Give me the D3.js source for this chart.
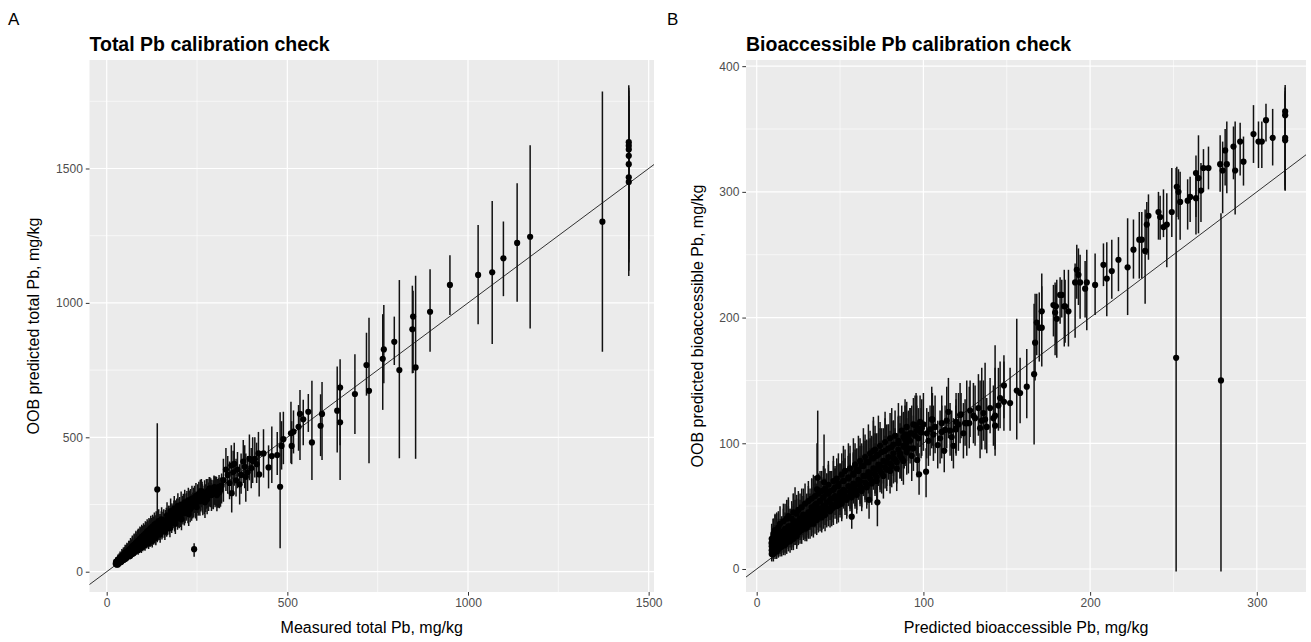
<!DOCTYPE html>
<html>
<head>
<meta charset="utf-8">
<script src="https://cdn.jsdelivr.net/npm/d3@7"></script>
<style>
  body { margin: 0; background: #fff; }
  svg text { font-family: "Liberation Sans", Arial, sans-serif; }
</style>
</head>
<body>
<svg id="chart" width="1311" height="642"></svg>
<script>
// ---- data: [x, predicted, lower, upper] ----
// panel A, sparse upper part
var totalUpper = [
  [1445,1598,1230,1810],[1445,1585,1300,1790],[1445,1571,1200,1800],[1445,1547,1150,1770],
  [1445,1516,1100,1750],[1445,1467,1120,1720],[1445,1450,1250,1700],
  [1372,1302,818,1786],[1172,1246,905,1586],[1136,1223,1004,1445],[1098,1166,1025,1303],
  [1067,1114,847,1379],[1028,1104,921,1290],[950,1067,955,1177],[895,967,818,1125],
  [855,760,420,1101],[848,949,739,1045],[846,902,738,1064],[810,750,422,1085],
  [796,855,769,949],[767,827,701,992],[764,792,602,958],[726,673,403,945],
  [719,769,655,889],[687,661,512,809],[646,685,341,790],[638,599,443,763],
  [646,556,470,700],[596,587,416,706],[592,543,430,660],[568,481,341,710],
  [558,595,520,661],[544,567,470,640],[535,587,416,676],[531,539,450,620],
  [517,521,440,600],[510,515,403,632],[512,468,400,560],[489,493,400,595],
  [484,468,380,560],[480,316,87,593],[472,434,360,520],[457,430,330,540],
  [448,388,310,470],[434,440,350,530],[422,362,280,450],[404,412,330,500],
  [385,353,260,440],[353,401,320,480],[346,292,220,380],[323,341,260,420],
  [330,380,300,460],[335,360,290,430],[340,330,270,410],[345,395,320,470],
  [350,370,300,450],[358,340,280,420],[362,380,310,445],[368,325,250,400],
  [372,360,290,440],[378,410,330,490],[382,390,310,470],[390,370,300,430],
  [395,420,340,510],[400,385,310,460],[410,420,350,500],[415,400,330,480],
  [420,440,360,520],[140,306,120,552],[242,84,56,106]
];
// panel A, dense band (three passes of reading)
var totalBand = [
  [25,30,22,42],[28,26,20,38],[30,38,28,55],[32,30,24,44],[33,42,32,60],[35,33,26,50],
  [36,45,34,62],[38,40,30,70],[40,36,28,52],[41,52,40,75],[43,46,36,66],[45,55,42,80],
  [47,44,34,62],[48,60,46,85],[50,53,42,78],[52,64,50,90],[54,50,40,72],[55,68,52,100],
  [57,58,46,84],[60,72,56,104],[62,60,48,86],[64,75,58,110],[66,64,50,92],[68,80,62,118],
  [70,71,56,100],[72,84,66,124],[75,70,55,98],[77,90,70,130],[80,82,64,118],[82,95,74,140],
  [85,86,68,125],[88,102,80,150],[90,88,70,128],[93,108,84,155],[95,97,76,140],[98,112,88,162],
  [100,95,76,135],[103,118,92,165],[105,104,82,150],[108,125,98,172],[110,110,86,155],
  [113,128,100,178],[115,112,88,158],[118,132,104,182],[120,118,92,165],[123,140,110,190],
  [125,122,96,170],[128,145,114,196],[130,128,100,178],[133,150,118,200],[135,132,104,182],
  [138,155,120,205],[140,140,110,185],[143,160,126,205],[146,150,118,195],[150,168,132,215],
  [153,152,120,198],[156,175,138,222],[160,160,126,205],[163,182,144,230],[166,165,130,210],
  [170,190,150,238],[173,175,138,220],[176,196,155,245],[180,182,144,228],[184,205,162,255],
  [188,190,150,236],[192,215,170,265],[196,198,156,245],[200,222,176,272],[205,210,166,258],
  [210,232,184,282],[215,218,172,265],[220,240,190,290],[225,228,180,276],[230,252,200,302],
  [235,240,190,288],[240,262,208,312],[246,250,198,298],[252,275,218,325],[258,262,208,310],
  [264,288,228,335],[270,272,215,320],[276,295,234,345],[282,285,226,332],[288,300,240,348],
  [295,292,232,340],[302,310,246,355],[310,300,238,348],[318,320,254,365],
  [255,290,230,335],[262,300,240,345],[272,258,200,305],[285,310,250,352],[300,305,240,350],
  [305,285,225,332],[312,296,236,342]
];
var totalBand2 = [
  [27,35,26,50],[31,27,21,40],[34,48,36,68],[37,36,28,54],[39,50,38,72],[42,40,31,60],
  [44,58,44,82],[46,50,39,74],[49,65,50,92],[51,47,37,70],[53,70,54,98],[56,54,43,80],
  [58,75,58,105],[61,66,52,96],[63,82,64,115],[65,58,46,86],[67,88,68,122],[69,66,52,95],
  [71,92,72,130],[74,80,63,115],[76,98,76,138],[78,74,58,105],[81,104,82,148],[83,84,66,120],
  [86,110,86,155],[87,80,63,115],[89,115,90,160],[91,96,75,138],[94,120,95,165],[96,90,70,130],
  [99,126,98,170],[101,104,82,150],[104,130,102,175],[106,100,78,145],[109,138,108,185],
  [111,118,92,165],[114,142,112,190],[116,106,84,150],[119,148,116,195],[121,128,100,175],
  [124,152,120,200],[126,115,90,160],[129,158,124,205],[131,136,106,182],[134,162,128,210],
  [136,125,98,170],[139,168,132,215],[142,148,116,190],[145,172,136,215],[148,138,108,178],
  [151,180,142,225],[155,160,126,202],[158,186,146,232],[161,150,118,190],[165,192,152,238],
  [168,172,136,215],[172,200,158,245],[175,162,128,205],[178,208,164,255],[182,195,154,240],
  [186,218,172,265],[190,178,140,220],[194,225,178,272],[198,208,164,252],[202,232,184,278],
  [207,195,154,238],[212,245,194,290],[217,228,180,272],[222,255,202,300],[227,215,170,258],
  [232,262,208,308],[238,250,198,295],[243,275,218,320],[249,240,190,285],[255,268,212,312],
  [260,282,224,328],[266,265,210,310],[274,280,222,325],[280,300,238,345],[290,285,226,330],
  [298,315,250,355],[306,300,238,345],[315,305,242,350]
];
var totalBand3 = [
  [26,38,28,55],[29,33,25,48],[31,44,33,64],[34,39,30,58],[37,52,40,75],[39,46,35,68],
  [42,58,44,84],[44,50,38,72],[46,62,48,90],[49,56,43,82],[51,70,54,100],[53,60,46,88],
  [56,76,58,108],[59,64,50,94],[61,80,62,115],[63,68,53,100],[66,86,66,125],[69,76,58,110],
  [71,95,74,135],[73,78,60,112],[76,100,78,142],[79,88,68,128],[81,108,84,152],[84,94,73,136],
  [87,115,90,160],[89,100,78,145],[92,122,95,168],[94,105,82,150],[97,130,102,175],
  [99,112,88,158],[102,135,106,180],[104,118,92,165],[107,142,112,188],[109,124,97,172],
  [112,150,118,195],[114,130,102,178],[117,155,122,200],[119,136,106,185],[122,162,128,208],
  [124,140,110,188],[127,168,132,212],[129,146,114,192],[132,175,138,220],[134,150,118,196],
  [137,180,142,225],[141,158,124,198],[144,188,148,232],[147,165,130,208],[152,195,154,240],
  [157,185,146,228],[162,172,136,215],[167,210,166,258],[171,198,156,245],[177,225,178,272],
  [181,205,162,250],[187,235,186,282],[191,220,174,265],[197,245,194,292],[201,205,162,250],
  [206,250,198,298],[211,222,176,268],[216,258,204,305],[221,245,194,292],[226,265,210,312],
  [231,232,184,278],[236,272,216,320],[241,255,202,302],[247,282,224,330],[253,262,208,310],
  [259,295,234,342],[265,278,220,325],[271,292,232,340],[278,270,214,318],[284,305,242,352],
  [291,295,234,342],[297,312,248,358],[304,308,244,352],[311,316,250,360]
];

// panel B, sparse upper part
var bioUpper = [
  [317,364,301,385],[317,361,305,383],[317,343,302,380],[317,341,301,378],[309.5,343,321,366],
  [305.5,357,340,370],[303,340,319,356],[301,340,319,356],[298,346,323,369],[292,324,305,344],
  [290,340,313,355],[287,317,282,356],[286,336,310,352],[282,322,299,356],[281,333,305,350],
  [279.5,317,283,340],[278.5,150,-2,283],[278,322,300,345],[271,319,302,336],[268,319,300,334],
  [266.5,301,276,323],[265,311,267,345],[263.5,315,280,329],[263.5,295,266,317],[260,296,276,312],
  [258.5,293,270,310],[254,292,262,316],[253,300,278,318],[252,304,280,320],[251.6,168,-2,319],
  [249,284,264,319],[246,274,240,299],[244,272,264,302],[242,280,262,297],[241,284,262,300],
  [235,281,246,298],[234,274,250,292],[233,253,211,286],[231,262,231,284],[229.5,262,231,284],
  [226,254,231,278],[222.5,240,202,279],[217,246,221,264],[213,237,215,262],[210,231,201,260],
  [208,242,225,259],[203,226,202,251],[198,228,190,254],[197,223,200,245],[194,228,199,250],
  [193,234,210,255],[192,238,215,258],[191,228,184,243],[187,205,177,238],[185,209,180,230],
  [184.5,209,177,238],[183,218,200,230],[182,218,195,232],[180,199,168,230],[179.5,209,180,226],
  [179,204,170,228],[178,210,185,226],[171,205,190,225],[171,192,161,235],[169.5,192,165,220],
  [168,196,170,219],[167,180,150,219],[166.4,155,99,211],[156,142,103,199],[148.3,146,120,170],
  [148.3,133,110,165],[143,122,95,178],[143,114,90,160],[137,119,95,164],[135,118,95,160],
  [134,112,88,150],[127.5,116,96,145],[126,116,90,150],[122,122.5,100,148],[119.6,117,95,140],
  [119.6,112,90,135],[111,116,95,138],[111,109,88,130],[105,119,96,145],[106,107,86,130],
  [99,112,90,135],[102,108,88,128],[95.6,114,92,140],[89,107,86,130],
  [128,126,105,150],[131,120,98,146],[140,128,108,152],[138,113,92,136],[145,130,110,160],
  [115,125,104,152],[117,105,86,126],
  [96,114,95,138],[98.6,108.5,88,128],[104,111,90,130],[105.4,119,98,140],[96.3,86.7,73,100],
  [97.4,75.3,59,92],[101.6,77.4,57,96],[112.5,94,77,110],[108.6,98.6,80,118],[113,110.6,92,130],
  [119.4,111,92,130],[122.6,123,104,140],[125,116,98,135],[89.7,100,82,120],[91,106,86,125],
  [88.5,97,80,115],
  [93,108,88,130],[97,104,85,128],[100,115,94,140],[103,102,82,125],[107,113,92,138],
  [110,104,84,126],[114,118,96,145],[116,110,90,132],[118,98,80,120],[121,115,94,140],
  [124,108,88,132],[130,122,100,148],[133,128,106,155],[136,124,102,150],[142,120,98,146],
  [146,136,112,165],[152,132,110,160],[158,140,116,168],[162,145,120,175]
];
// panel B, dense band (three passes of reading)
var bioBand = [
  [9,12,6,22],[9,18,10,28],[9,24,14,34],[10,15,8,26],[10,21,12,32],[11,14,8,24],[11,27,16,43],
  [12,18,10,30],[12,22,12,36],[13,16,9,26],[13,25,15,38],[14,20,12,32],[15,18,10,30],
  [15,28,18,42],[16,22,13,34],[17,26,16,40],[17,19,11,30],[18,30,20,45],[19,24,14,36],
  [19,30,18,55],[20,22,13,34],[20,33,22,48],[21,27,17,40],[22,24,15,36],[22,36,24,52],
  [23,35,22,65],[23,30,19,44],[24,28,18,42],[25,38,26,56],[25,33,22,48],[26,30,20,45],
  [27,40,28,58],[28,34,23,50],[29,32,22,46],[30,42,30,60],[30,37,25,54],[31,35,24,52],
  [32,44,31,64],[33,38,26,56],[34,36,25,52],[35,46,33,68],[35,41,28,60],[36,39,27,56],
  [37,48,35,70],[38,43,30,62],[39,41,29,58],[40,50,36,72],[40,45,32,64],[41,43,30,60],
  [42,53,38,76],[43,48,34,68],[44,46,33,64],[45,56,41,78],[45,51,37,72],[46,49,35,68],
  [47,58,43,80],[48,53,39,74],[49,51,37,83],[50,61,46,84],[50,56,41,78],[51,54,40,74],
  [52,63,48,86],[53,58,43,80],[54,57,42,76],[55,66,50,90],[56,61,46,84],[57,59,44,80],
  [58,68,52,92],[59,63,48,86],[60,62,47,82],[61,71,55,96],[62,66,50,90],[63,64,49,86],
  [64,74,58,98],[65,69,53,92],[66,67,51,88],[67,77,60,102],[68,72,56,96],[69,70,54,92],
  [70,80,63,105],[71,75,58,100],[72,73,57,95],[73,83,66,108],[74,78,61,102],[75,76,60,98],
  [76,86,68,112],[77,81,64,106],[78,79,62,102],[79,89,71,115],[80,84,66,110],[81,82,65,105],
  [82,92,74,118],[83,87,69,112],[84,85,68,108],[85,95,77,122],[86,90,72,116],[87,88,70,112],
  [88,98,80,125],[90,93,75,120],[92,102,84,128],[94,96,78,122],
  [36.6,72.6,50,126],[36.2,63.4,45,100],[40.4,69,50,107],[70,94,75,121],[72.4,53,34,71],
  [57,41.6,32,57.5],[67.4,55,40,70]
];
var bioBand2 = [
  [9,15,8,30],[9,21,12,36],[10,12,6,40],[10,26,15,40],[11,19,11,32],[12,25,14,45],[12,14,8,26],
  [13,20,11,34],[13,29,18,44],[14,24,14,38],[14,17,10,30],[15,23,13,36],[16,30,19,48],
  [16,19,11,32],[17,23,13,52],[18,26,16,40],[18,21,12,34],[19,34,22,50],[20,27,17,42],
  [21,31,20,47],[21,24,15,38],[22,29,18,60],[23,38,25,55],[24,32,21,48],[24,26,16,40],
  [25,29,19,45],[26,40,27,60],[26,35,23,52],[27,31,20,47],[28,38,26,58],[28,43,29,64],
  [29,36,24,54],[30,33,22,50],[31,45,31,66],[31,40,27,60],[32,36,24,54],[33,49,34,72],
  [33,43,29,64],[34,40,27,75],[35,51,36,74],[36,45,31,66],[37,42,29,62],[38,54,38,78],
  [38,48,33,70],[39,45,31,66],[40,57,41,82],[41,50,35,72],[42,47,33,68],[43,60,43,86],
  [44,55,39,78],[45,48,34,70],[46,63,46,90],[47,56,40,80],[48,50,36,72],[49,66,48,92],
  [50,59,43,84],[51,52,38,75],[52,70,52,98],[53,62,46,88],[54,55,40,78],[55,72,54,100],
  [56,65,48,92],[57,57,42,82],[58,75,56,104],[59,67,50,95],[60,59,44,84],[61,78,58,106],
  [62,70,52,98],[63,62,46,88],[64,82,62,112],[65,74,55,102],[66,65,48,92],[67,85,65,115],
  [68,76,57,104],[69,68,51,95],[70,88,68,118],[71,79,60,108],[72,70,53,98],[73,91,70,122],
  [74,82,63,112],[76,74,56,102],[77,94,73,125],[78,85,66,115],[80,78,60,106],[81,97,76,128],
  [82,88,68,118],[84,80,62,108],[85,100,79,132],[86,92,72,122],[88,86,67,114],[89,103,82,135],
  [91,96,76,126],[93,90,70,118],[95,106,85,138]
];
var bioBand3 = [
  [9,20,11,32],[10,17,9,30],[10,28,18,40],[11,22,13,35],[11,31,20,44],[12,27,16,40],
  [13,22,13,35],[13,33,22,46],[14,27,16,40],[14,36,24,50],[15,25,15,38],[16,29,18,42],
  [16,38,26,52],[17,32,21,45],[18,40,28,55],[19,30,19,44],[19,42,30,57],[20,34,22,48],
  [21,40,28,54],[22,35,23,50],[22,45,32,60],[23,30,19,44],[24,44,31,59],[25,47,34,62],
  [26,40,28,55],[27,37,25,52],[27,49,36,64],[28,43,30,58],[29,52,38,68],[30,42,29,57],
  [31,54,40,70],[32,45,32,60],[33,56,42,72],[34,49,35,65],[35,58,44,74],[36,52,38,68],
  [37,60,46,76],[38,54,40,70],[39,62,48,78],[40,57,42,73],[41,64,50,80],[42,60,45,76],
  [43,67,52,83],[44,62,47,78],[46,70,55,86],[47,65,50,82],[48,72,57,88],[49,68,52,84],
  [51,75,60,92],[52,70,54,86],[53,78,62,95],[55,73,57,90],[56,80,64,98],[58,76,60,93],
  [59,83,66,100],[60,79,62,96],[62,86,69,104],[63,82,65,100],[65,89,72,107],[66,85,68,103],
  [68,92,74,110],[69,88,70,106],[71,95,77,114],[72,90,72,108],[74,98,80,117],[75,93,75,112],
  [77,101,82,120],[79,96,78,115],[80,104,85,124],[82,99,80,118],[83,106,87,126],[85,102,83,121],
  [87,110,90,130],[88,105,86,124],[90,113,93,133],[92,108,88,128],[94,115,95,136],
  [96,110,90,130],[98,117,97,138]
];

var totalTicks = [0, 500, 1000, 1500];
var totalMinor = [250, 750, 1250, 1750];
var bioXTicks = [0, 100, 200, 300];
var bioXMinor = [50, 150, 250];
var bioYTicks = [0, 100, 200, 300, 400];
var bioYMinor = [50, 150, 250, 350];

var svg = d3.select("#chart");

function drawPanel(cfg) {
    var x = d3.scaleLinear().domain(cfg.xDomain).range([cfg.left, cfg.right]);
    var y = d3.scaleLinear().domain(cfg.yDomain).range([cfg.bottom, cfg.top]);
    var g = svg.append("g");

    g.append("rect")
        .attr("x", cfg.left).attr("y", cfg.top)
        .attr("width", cfg.right - cfg.left).attr("height", cfg.bottom - cfg.top)
        .attr("fill", "#EBEBEB");

    // grid, minor first then major
    function vlines(vals, w) {
        g.append("g").selectAll("line").data(vals.filter(function(v) {
            return x(v) > cfg.left && x(v) < cfg.right;
        })).enter().append("line")
            .attr("x1", function(d) { return x(d); }).attr("x2", function(d) { return x(d); })
            .attr("y1", cfg.top).attr("y2", cfg.bottom)
            .attr("stroke", "#fff").attr("stroke-width", w);
    }
    function hlines(vals, w) {
        g.append("g").selectAll("line").data(vals.filter(function(v) {
            return y(v) > cfg.top && y(v) < cfg.bottom;
        })).enter().append("line")
            .attr("y1", function(d) { return y(d); }).attr("y2", function(d) { return y(d); })
            .attr("x1", cfg.left).attr("x2", cfg.right)
            .attr("stroke", "#fff").attr("stroke-width", w);
    }
    vlines(cfg.xMinor, 0.6);
    hlines(cfg.yMinor, 0.6);
    vlines(cfg.xTicks, 1.2);
    hlines(cfg.yTicks, 1.2);

    svg.append("clipPath").attr("id", "clip-" + cfg.id)
        .append("rect")
        .attr("x", cfg.left).attr("y", cfg.top)
        .attr("width", cfg.right - cfg.left).attr("height", cfg.bottom - cfg.top);
    var plot = g.append("g").attr("clip-path", "url(#clip-" + cfg.id + ")");

    // 1:1 line
    var lo = Math.min(cfg.xDomain[0], cfg.yDomain[0]);
    var hi = Math.max(cfg.xDomain[1], cfg.yDomain[1]);
    plot.append("line")
        .attr("x1", x(lo)).attr("y1", y(lo))
        .attr("x2", x(hi)).attr("y2", y(hi))
        .attr("stroke", "#000").attr("stroke-width", 0.8);

    plot.append("g").selectAll("line").data(cfg.points).enter().append("line")
        .attr("x1", function(d) { return x(d[0]); })
        .attr("x2", function(d) { return x(d[0]); })
        .attr("y1", function(d) { return y(d[2]); })
        .attr("y2", function(d) { return y(d[3]); })
        .attr("stroke", "#111").attr("stroke-width", 1.5);

    plot.append("g").selectAll("circle").data(cfg.points).enter().append("circle")
        .attr("cx", function(d) { return x(d[0]); })
        .attr("cy", function(d) { return y(d[1]); })
        .attr("r", 3.1)
        .attr("fill", "#000");

    // axes
    var fmt = d3.format("d");
    var xAxis = d3.axisBottom(x).tickValues(cfg.xTicks).tickFormat(fmt).tickSize(3.7).tickPadding(3);
    var yAxis = d3.axisLeft(y).tickValues(cfg.yTicks).tickFormat(fmt).tickSize(3.7).tickPadding(3);
    [
        g.append("g").attr("transform", "translate(0," + cfg.bottom + ")").call(xAxis),
        g.append("g").attr("transform", "translate(" + cfg.left + ",0)").call(yAxis)
    ].forEach(function(a) {
        a.attr("font-family", null).attr("font-size", 12);
        a.select(".domain").remove();
        a.selectAll(".tick line").attr("stroke", "#333");
        a.selectAll(".tick text").attr("fill", "#4D4D4D");
    });

    // labels
    svg.append("text").attr("x", cfg.tagX).attr("y", 25)
        .attr("font-size", 17).attr("fill", "#000").text(cfg.tag);
    svg.append("text").attr("x", cfg.left).attr("y", 51)
        .attr("font-size", 19.5).attr("font-weight", "bold").attr("fill", "#000").text(cfg.title);
    svg.append("text")
        .attr("x", (cfg.left + cfg.right) / 2).attr("y", 633)
        .attr("text-anchor", "middle").attr("font-size", 16).attr("fill", "#000")
        .text(cfg.xTitle);
    svg.append("text")
        .attr("transform", "translate(" + cfg.yTitleX + "," + ((cfg.top + cfg.bottom) / 2) + ") rotate(-90)")
        .attr("text-anchor", "middle").attr("font-size", 16).attr("fill", "#000")
        .text(cfg.yTitle);
}

drawPanel({
    id: "a", tag: "A", tagX: 8,
    title: "Total Pb calibration check",
    xTitle: "Measured total Pb, mg/kg",
    yTitle: "OOB predicted total Pb, mg/kg",
    yTitleX: 38.5,
    left: 89.5, right: 654, top: 60, bottom: 592,
    xDomain: [-47.6, 1514.8], yDomain: [-75.5, 1903.6],
    xTicks: totalTicks, xMinor: totalMinor.slice(0, 3),
    yTicks: totalTicks, yMinor: totalMinor,
    points: totalBand.concat(totalBand2, totalBand3, totalUpper)
});

drawPanel({
    id: "b", tag: "B", tagX: 667,
    title: "Bioaccessible Pb calibration check",
    xTitle: "Predicted bioaccessible Pb, mg/kg",
    yTitle: "OOB predicted bioaccessible Pb, mg/kg",
    yTitleX: 702.5,
    left: 746, right: 1306, top: 60, bottom: 592,
    xDomain: [-6.42, 329.5], yDomain: [-18.3, 404.9],
    xTicks: bioXTicks, xMinor: bioXMinor,
    yTicks: bioYTicks, yMinor: bioYMinor,
    points: bioBand.concat(bioBand2, bioBand3, bioUpper)
});
</script>
</body>
</html>
